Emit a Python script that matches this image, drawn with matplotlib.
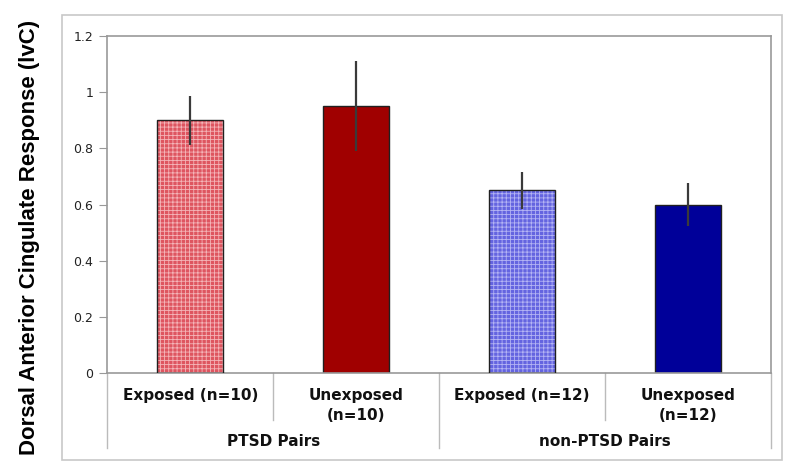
import matplotlib.pyplot as plt
from matplotlib import font_manager
from matplotlib.patches import Rectangle
from matplotlib.lines import Line2D

plt.rcParams['font.family'] = ['DejaVu Sans']
plt.rcParams['hatch.linewidth'] = 0.6

# data
conditions = ["Exposed (n=10)", "Unexposed\n(n=10)", "Exposed (n=12)", "Unexposed\n(n=12)"]
groups = ["PTSD Pairs", "non-PTSD Pairs"]
means = [0.90, 0.95, 0.65, 0.60]
errors = [0.087, 0.16, 0.067, 0.075]
yticks = [0, 0.2, 0.4, 0.6, 0.8, 1, 1.2]
ytick_labels = ["0", "0.2", "0.4", "0.6", "0.8", "1", "1.2"]

face_colors = ["#de5560", "#a00000", "#6464e0", "#000099"]
hatch_colors = ["#f4b4b8", None, "#b4b4f4", None]

# pick the regular-width Liberation Sans Bold (not the Narrow one)
label_font = font_manager.FontProperties(family="DejaVu Sans", weight="bold", size=14)
for f in font_manager.fontManager.ttflist:
    if f.name == "Liberation Sans" and f.weight in (700, "bold") and f.style == "normal":
        label_font = font_manager.FontProperties(fname=f.fname, size=16)
        break

fig = plt.figure(figsize=(8, 4.73), dpi=100)
ax = fig.add_axes([0.134, 0.2114, 0.830, 0.7125])

# outer chart frame
fig.patches.append(Rectangle((0.0775, 0.0275), 0.9, 0.941, transform=fig.transFigure,
                             fill=False, edgecolor="#c8c8c8", linewidth=1.2))

x = list(range(len(means)))
for i in x:
    if hatch_colors[i]:
        ax.bar(i, means[i], width=0.4, color=face_colors[i], edgecolor=hatch_colors[i],
               hatch="++++", linewidth=0, zorder=2)
        ax.bar(i, means[i], width=0.4, fill=False, edgecolor="#202020", linewidth=1, zorder=3)
    else:
        ax.bar(i, means[i], width=0.4, color=face_colors[i], edgecolor="#202020",
               linewidth=1, zorder=2)
ax.errorbar(x, means, yerr=errors, fmt="none", ecolor="#3a3a3a", elinewidth=1.6,
            capsize=0, zorder=4)

ax.set_xlim(-0.5, 3.5)
ax.set_ylim(0, 1.2)
ax.set_yticks(yticks)
ax.set_yticklabels(ytick_labels, fontsize=9, color="#222222")
ax.tick_params(axis="y", length=6, width=0.8, color="#999999", pad=4)
ax.set_xticks([])
for s in ax.spines.values():
    s.set_color("#999999")
    s.set_linewidth(1.2)

fig.text(0.037, 0.498, "Dorsal Anterior Cingulate Response (lvC)", fontproperties=label_font,
         rotation=90, ha="center", va="center")

# multi-level category axis
trans = ax.get_xaxis_transform()
for i, lab in enumerate(conditions):
    ax.text(i, -0.045, lab, transform=trans, ha="center", va="top", fontsize=11,
            fontweight="bold", color="#111111", linespacing=1.4)
for i, g in enumerate(groups):
    ax.text(2 * i + 0.5, -0.204, g, transform=trans, ha="center", va="center",
            fontsize=11, fontweight="bold", color="#111111")
for xs in [-0.5, 1.5, 3.5]:
    ax.add_line(Line2D([xs, xs], [0, -0.223], transform=trans, color="#bbbbbb",
                       linewidth=1, clip_on=False))
for xs in [0.5, 2.5]:
    ax.add_line(Line2D([xs, xs], [0, -0.14], transform=trans, color="#bbbbbb",
                       linewidth=1, clip_on=False))

fig.savefig("out.png", dpi=100)
